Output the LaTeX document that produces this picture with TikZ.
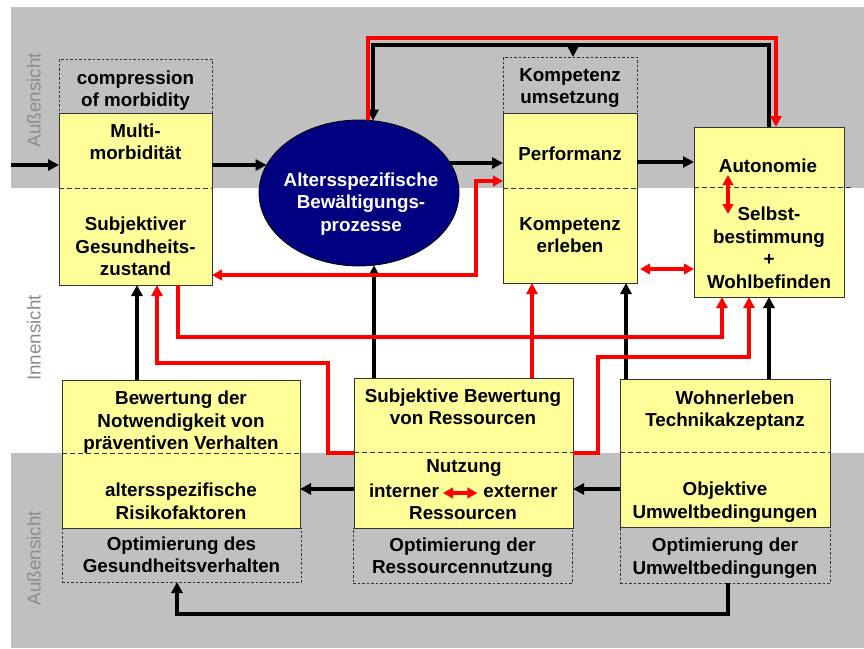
\documentclass[tikz,border=0pt]{standalone}
\usepackage{fontspec}
\setmainfont{Liberation Sans}
\usetikzlibrary{calc,arrows.meta,shapes.geometric}
\definecolor{bandgray}{HTML}{C0C0C0}
\definecolor{boxyellow}{HTML}{FFFF99}
\definecolor{navyfill}{HTML}{000080}
\definecolor{sidegray}{HTML}{8C8C8C}
\definecolor{linered}{HTML}{FF0000}

\begin{document}
\begin{tikzpicture}[x=1pt,y=-1pt,
  every node/.style={inner sep=0pt,outer sep=0pt},
  box/.style={draw=black!80,line width=0.8pt,fill=boxyellow,rectangle},
  dbox/.style={draw=black!80,line width=0.7pt,dash pattern=on 2.5pt off 2pt,rectangle},
  divider/.style={draw=black!80,line width=0.8pt,dash pattern=on 5pt off 3pt},
  lbl/.style={font=\fontsize{18.8}{22.5}\selectfont\bfseries,align=center},
  side/.style={font=\fontsize{18.8}{22.5}\selectfont,text=sidegray,rotate=90},
  arr/.style={line width=3.2pt,-{Triangle[length=11pt,width=11pt]}},
  rarr/.style={arr,draw=linered},
  rdbl/.style={line width=3.2pt,draw=linered,{Triangle[length=10pt,width=10.5pt]}-{Triangle[length=10pt,width=10.5pt]}},
]
\useasboundingbox (0,0) rectangle (864,648);
\fill[white] (0,0) rectangle (864,648);

% outer/inner view bands
\fill[bandgray] (11,7) rectangle (864,188);
\fill[bandgray] (11,453) rectangle (864,648);
\node[side] (outTop) at (34,100) {Außensicht};
\node[side] (inner)  at (34,338) {Innensicht};
\node[side] (outBot) at (34,558) {Außensicht};

% upper row
\node[dbox,minimum width=153pt,minimum height=54pt] (cmp) at (135.5,86) {};
\node[box,minimum width=153pt,minimum height=172pt] (mm) at (135.5,199) {};
\draw[divider] ($(mm.north west)+(0,75)$) -- ($(mm.north east)+(0,75)$);
\node[lbl] (cmpT) at (135.5,90.5) {compression\\of morbidity};
\node[lbl] (mmA) at (135.5,142) {Multi-\\morbidität};
\node[lbl] (mmB) at (135.5,246.5) {Subjektiver\\Gesundheits-\\zustand};

\node[ellipse,draw=black,line width=0.8pt,fill=navyfill,minimum width=200pt,minimum height=146pt] (ell) at (359,193) {};
\node[lbl,text=white] (ellT) at (361,204) {Altersspezifische\\Bewältigungs-\\prozesse};

\node[dbox,minimum width=134pt,minimum height=56pt] (ku) at (570,85) {};
\node[box,minimum width=134pt,minimum height=170pt] (perf) at (570,198) {};
\draw[divider] ($(perf.north west)+(0,75)$) -- ($(perf.north east)+(0,75)$);
\node[lbl] (kuT) at (570,88) {Kompetenz\\umsetzung};
\node[lbl] (perfA) at (570,154) {Performanz};
\node[lbl] (perfB) at (570,235) {Kompetenz\\erleben};

\node[box,minimum width=150pt,minimum height=170pt] (aut) at (769,212) {};
\draw[divider] ($(aut.north west)+(0,60)$) -- ($(aut.north east)+(7,60)$);
\node[lbl] (autA) at (768,166) {Autonomie};
\node[lbl] (autB) at (769,248) {Selbst-\\bestimmung\\+\\Wohlbefinden};

% lower row
\node[box,minimum width=238pt,minimum height=148pt] (bew) at (181,454) {};
\draw[divider] ($(bew.north west)+(0,73)$) -- ($(bew.north east)+(0,73)$);
\node[dbox,minimum width=239pt,minimum height=54pt] (opt1) at (181.5,555) {};
\node[lbl] (bewA) at (181,422.5) {Bewertung der\\Notwendigkeit von\\präventiven Verhalten};
\node[lbl] (bewB) at (181,501.5) {altersspezifische\\Risikofaktoren};
\node[lbl] (opt1T) at (181.5,555) {Optimierung des\\Gesundheitsverhalten};

\node[box,minimum width=219pt,minimum height=150pt] (sub) at (463.5,453) {};
\draw[divider] ($(sub.north west)+(0,74)$) -- ($(sub.north east)+(0,74)$);
\node[dbox,minimum width=219pt,minimum height=55pt] (opt2) at (462.5,555.5) {};
\node[lbl] (subA) at (463,407) {Subjektive Bewertung\\von Ressourcen};
\node[lbl] (nutz) at (464,468.5) {Nutzung};
\node[lbl] (intern) at (404,491) {interner};
\node[lbl] (extern) at (520.5,491) {externer};
\node[lbl] (ress) at (463,513.5) {Ressourcen};
\node[lbl] (opt2T) at (462.5,557.5) {Optimierung der\\Ressourcennutzung};

\node[box,minimum width=210pt,minimum height=148pt] (woh) at (725,453) {};
\draw[divider] ($(woh.north west)+(0,73)$) -- ($(woh.north east)+(0,73)$);
\node[dbox,minimum width=210pt,minimum height=56pt] (opt3) at (725,555) {};
\node[lbl] (wohA) at (725,410.5) {\hspace*{20pt}Wohnerleben\\Technikakzeptanz};
\node[lbl] (wohB) at (725,502) {Objektive\\Umweltbedingungen};
\node[lbl] (opt3T) at (725,558) {Optimierung der\\Umweltbedingungen};

% black connectors
\coordinate (in) at (11,165);
\draw[arr] (in) -- (in -| mm.west);
\draw[arr] ($(mm.east)+(0,-34)$) -- ($(ell.center)+(-92.4,-28)$);
\draw[arr] ($(ell.center)+(91.2,-30)$) -- ($(perf.west)+(0,-35)$);
\draw[arr] ($(perf.east)+(0,-36)$) -- ($(aut.west)+(0,-50)$);
\draw[arr] (aut.north) -- ++(0,-82) -| ($(ell.center)+(14,-72.3)$);
\draw[arr] ($(ku.north)+(3,-12)$) -- ($(ku.north)+(3,0)$);

\draw[arr] ($(bew.north)+(-44,0)$) -- ($(mm.south)+(1.5,0)$);
\draw[arr] ($(sub.north)+(-89.5,0)$) -- ($(ell.center)+(15,72.2)$);
\draw[arr] ($(woh.north)+(-99,0)$) -- ($(perf.south)+(56,0)$);
\draw[arr] ($(woh.north)+(44,0)$) -- (aut.south);
\draw[arr] ($(woh.west)+(0,36)$) -- ($(sub.east)+(0,36)$);
\draw[arr] ($(sub.west)+(0,36)$) -- ($(bew.east)+(0,35)$);
\draw[arr] ($(opt3.south)+(3,0)$) -- ++(0,31) -| ($(opt1.south)+(-4.5,0)$);

% red connectors
\draw[rarr] ($(ell.center)+(9,-72.7)$) -- ++(0,-82.3) -| ($(aut.north)+(7,0)$);
\draw[rdbl] ($(mm.east)+(0,76)$) -| ($(perf.west)+(-27,-17)$) -- ($(perf.west)+(0,-17)$);
\draw[rdbl] ($(aut.center)+(-41,-37)$) -- ($(aut.center)+(-41,2)$);
\draw[rdbl] ($(perf.east)+(3,71)$) -- ($(aut.west)+(0,57)$);
\draw[rdbl] ($(intern.east)+(4,2)$) -- ($(extern.west)+(-6,2)$);

\draw[rarr] (sub.west) -- ++(-26,0) -- ++(0,-90) -| ($(mm.south)+(21.5,0)$);
\draw[rarr] ($(mm.south)+(42.5,0)$) |- ($(aut.south)+(-47,40)$) -- ($(aut.south)+(-47,0)$);
\draw[rarr] ($(sub.north)+(68.5,0)$) -- ($(perf.south)+(-38,0)$);
\draw[rarr] (sub.east) -- ++(25,0) -- ++(0,-96) -| ($(aut.south)+(-20,0)$);
\end{tikzpicture}
\end{document}
